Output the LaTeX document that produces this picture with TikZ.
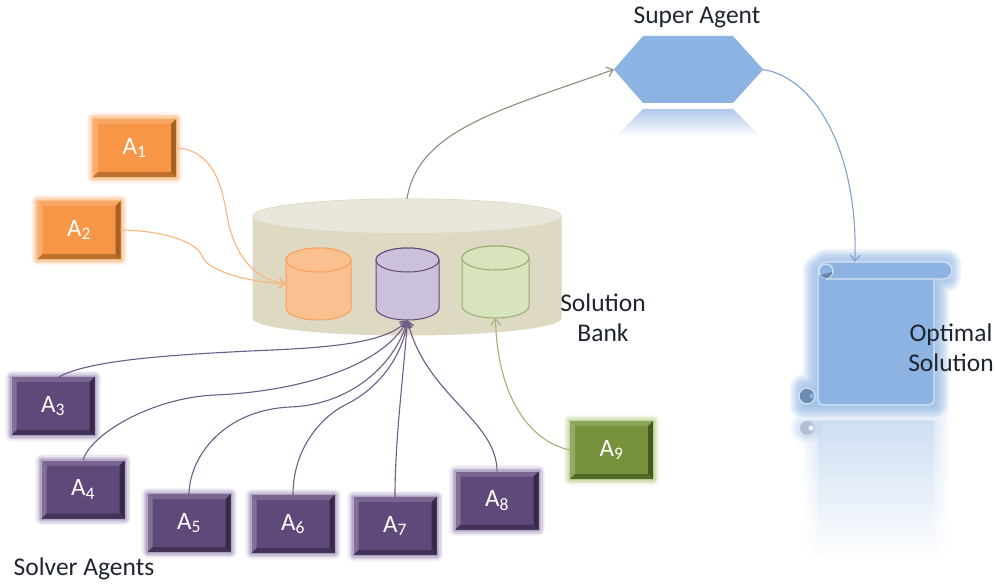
\documentclass[tikz,border=0pt]{standalone}
\usepackage{fontspec}
\setmainfont{Carlito}
\usetikzlibrary{arrows.meta,calc}
\definecolor{orgF}{HTML}{F79646}
\definecolor{orgD}{HTML}{A66224}
\definecolor{orgG}{HTML}{FBC08C}
\definecolor{purF}{HTML}{5F497A}
\definecolor{purD}{HTML}{362A48}
\definecolor{purG}{HTML}{B3A5C6}
\definecolor{grnF}{HTML}{76923C}
\definecolor{grnD}{HTML}{465A20}
\definecolor{grnG}{HTML}{C3D69B}
\definecolor{sky}{HTML}{8DB3E2}
\definecolor{skyL}{HTML}{C9DAF0}
\definecolor{txt}{HTML}{1E2530}
\definecolor{bankS}{HTML}{DDD9C3}
\definecolor{bankT}{HTML}{E9E7DB}
\definecolor{cylO}{HTML}{FAC090}
\definecolor{cylP}{HTML}{CCC1DA}
\definecolor{cylG}{HTML}{D7E4BD}
\definecolor{lnK}{HTML}{8C8C78}
\tikzset{
  agent/.style n args={3}{
    minimum width=83pt,minimum height=58pt,inner sep=0pt,fill=#1,text=white,
    font=\fontsize{25}{28}\selectfont,
    preaction={draw=#3!12,line width=13pt,line join=round},
    preaction={draw=#3!28,line width=10.5pt,line join=round},
    preaction={draw=#3!50,line width=8pt,line join=round},
    preaction={draw=#3!75,line width=5pt,line join=round},
    preaction={draw=#3,line width=2.5pt},
    path picture={
      \def\ppb{path picture bounding box}
      \fill[white,opacity=.16] (\ppb.north west) -- (\ppb.north east) -- ++(-5pt,-5pt) -- ($(\ppb.north west)+(5pt,-5pt)$) -- cycle;
      \fill[white,opacity=.22] (\ppb.north west) -- (\ppb.south west) -- ++(5pt,5pt) -- ($(\ppb.north west)+(5pt,-5pt)$) -- cycle;
      \fill[#2] (\ppb.south east) -- (\ppb.north east) -- ++(-5pt,-5pt) -- ($(\ppb.south east)+(-5pt,5pt)$) -- cycle;
      \fill[#2,opacity=.7] (\ppb.south east) -- (\ppb.south west) -- ++(5pt,5pt) -- ($(\ppb.south east)+(-5pt,5pt)$) -- cycle;
    }},
  orangeagent/.style={agent={orgF}{orgD}{orgG}},
  purpleagent/.style={agent={purF}{purD}{purG}},
  greenagent/.style={agent={grnF}{grnD}{grnG}},
  label/.style={font=\fontsize{25.5}{30}\selectfont,text=txt,align=center,inner sep=0pt},
  link/.style={line width=1.1pt,-{Straight Barb[length=6pt,width=10pt]}},
  linkO/.style={link,draw=orgF!70!white},
  linkP/.style={link,draw=purF!90!white},
  linkG/.style={link,draw=grnF!70!white},
  linkK/.style={link,draw=lnK},
  linkB/.style={link,draw=sky!90!black},
  scrollline/.style={draw=sky!35!white,line width=1.2pt},
  anchorbox/.style={inner sep=0pt},
}
\newcommand\drumcyl[8]{%
  \pgfmathsetmacro{\cylH}{#4-#3}
  \pgfmathsetmacro{\cylM}{(#4+#3)/2}
  \pgfmathsetmacro{\cylW}{2*#5}
  \pgfmathsetmacro{\cylT}{#4-#3+2*#6}
  \path[fill=#7,draw=#8,line width=1pt] (#2,#3) ++(-#5pt,0pt) -- ++(0pt,-\cylH pt)
     arc[start angle=180,end angle=360,x radius=#5pt,y radius=#6pt] -- ++(0pt,\cylH pt)
     arc[start angle=0,end angle=180,x radius=#5pt,y radius=#6pt] -- cycle;
  \path[draw=#8,line width=1pt,fill=#7] (#2,#3) ellipse[x radius=#5pt,y radius=#6pt];
  \node[anchorbox,minimum width=\cylW pt,minimum height=\cylT pt] (#1) at (#2,\cylM) {};
}
\begin{document}
\begin{tikzpicture}[x=1pt,y=-1pt]
\useasboundingbox (0,0) rectangle (997,586);
% ---- solution bank
\drumcyl{bank}{407}{216}{318}{154}{17}{bankS}{bankS}
\fill[bankT] (407,216) ellipse[x radius=154pt,y radius=17pt];
\drumcyl{cylOrange}{318.5}{260}{308}{32.5}{12}{cylO}{orgF!90!white}
\drumcyl{cylPurple}{407.5}{260}{308}{31.5}{12}{cylP}{purF}
\drumcyl{cylGreen}{495.5}{258}{306}{33.5}{12}{cylG}{grnF!75!white}
% ---- super agent
\node[anchorbox,minimum width=149pt,minimum height=67pt] (super) at (688.5,69.5) {};
\fill[sky] (super.west) -- (643,36) -- (733,36) -- (super.east) -- (733,103) -- (643,103) -- cycle;
\shade[top color=sky!70!white,bottom color=white] (643,109) -- (733,109) -- (760,136) -- (616,136) -- cycle;
\node[label] (superlabel) at (697,17) {Super Agent};
% ---- scroll reflection
\foreach \xa/\xb/\c in {803/949/6,806/946/12,809/943/18,812/940/24,815/937/30,818/934/45}{
  \shade[top color=sky!\c!white,bottom color=white] (\xa,414) rectangle (\xb,562);
}
\foreach \r/\o in {16/.06,14/.08,12/.1,10/.12}{
  \fill[sky,opacity=\o] (806,428) circle[radius=\r pt];
}
\fill[black!12!skyL] (807,428) circle[radius=7pt];
\fill[white!80!skyL] (811,428) circle[radius=2.5pt];
% ---- scroll glow
\node[anchorbox,minimum width=154pt,minimum height=143pt] (scroll) at (875,333.5) {};
\foreach \w/\c in {30/14,27/24,24/34,21/44,18/52,15/58,12/64,8/70,4/78}{
  \draw[line width=\w pt,draw=sky!\c!white,fill=sky!\c!white,line join=round]
    (826,264) -- (946,264) -- (946,277) -- (934,277) -- (934,405) -- (805,405) -- (805,389) -- (818,389) -- (818,270) -- cycle;
}
% ---- scroll body
\path[fill=sky,scrollline,rounded corners=5pt] (818,268) -- (818,405) -- (934,405) -- (934,275) -- cycle;
\path[fill=sky,scrollline,rounded corners=8.5pt] (818,262) rectangle (952,279);
\path[fill=sky,draw=none] (819,271) rectangle (826,285);
\path[fill=sky,scrollline] (826,271) circle[radius=7pt];
\fill[black!25!sky] (820,275) -- (832,272) arc[start angle=0,end angle=-120,radius=6pt] -- cycle;
\path[fill=black!22!sky,draw=sky!35!white,line width=1.2pt] (807,396) circle[radius=8pt];
\fill[sky] (812,396) circle[radius=2.5pt];
% ---- agents
\node[orangeagent] (A1) at (134.5,148) {A\textsubscript{1}};
\node[orangeagent] (A2) at (79,230) {A\textsubscript{2}};
\node[purpleagent] (A3) at (53,406) {A\textsubscript{3}};
\node[purpleagent] (A4) at (83,489.5) {A\textsubscript{4}};
\node[purpleagent] (A5) at (189,523) {A\textsubscript{5}};
\node[purpleagent] (A6) at (293,524) {A\textsubscript{6}};
\node[purpleagent] (A7) at (395,526) {A\textsubscript{7}};
\node[purpleagent] (A8) at (497,500.5) {A\textsubscript{8}};
\node[greenagent] (A9) at (611.5,450) {A\textsubscript{9}};
% ---- connectors
\draw[linkO] (A1.east) .. controls (215,150) and (222,190) .. (226,210) .. controls (232,250) and (250,278) .. (cylOrange.west);
\draw[linkO] (A2.east) .. controls (150,230) and (195,238) .. (202,256) .. controls (208,272) and (250,282) .. (cylOrange.west);
\draw[linkP] ([xshift=6pt]A3.north) .. controls (90,360) and (170,355) .. (250,351) .. controls (320,348) and (385,345) .. (cylPurple.south);
\draw[linkP] (A4.north) .. controls (90,435) and (150,398) .. (215,395) .. controls (290,392) and (380,370) .. (cylPurple.south);
\draw[linkP] (A5.north) .. controls (190,455) and (225,410) .. (290,407) .. controls (350,405) and (395,365) .. (cylPurple.south);
\draw[linkP] (A6.north) .. controls (293,445) and (325,415) .. (345,405) .. controls (380,388) and (403,355) .. (cylPurple.south);
\draw[linkP] (A7.north) .. controls (395,440) and (403,380) .. (cylPurple.south);
\draw[linkP] (A8.north) .. controls (497,420) and (425,395) .. (cylPurple.south);
\draw[linkG] (A9.west) .. controls (525,440) and (497,390) .. (cylGreen.south);
\draw[linkK] (bank.north) .. controls (418,130) and (500,110) .. (super.west);
\draw[linkB] (super.east) .. controls (815,78) and (858,150) .. (scroll.north -| 855,247);
% ---- labels
\node[label] (banklabel) at (603,318) {Solution\\Bank};
\node[label] (optlabel) at (951,348) {Optimal\\Solution};
\node[label] (solverlabel) at (84,569) {Solver Agents};
\end{tikzpicture}
\end{document}
